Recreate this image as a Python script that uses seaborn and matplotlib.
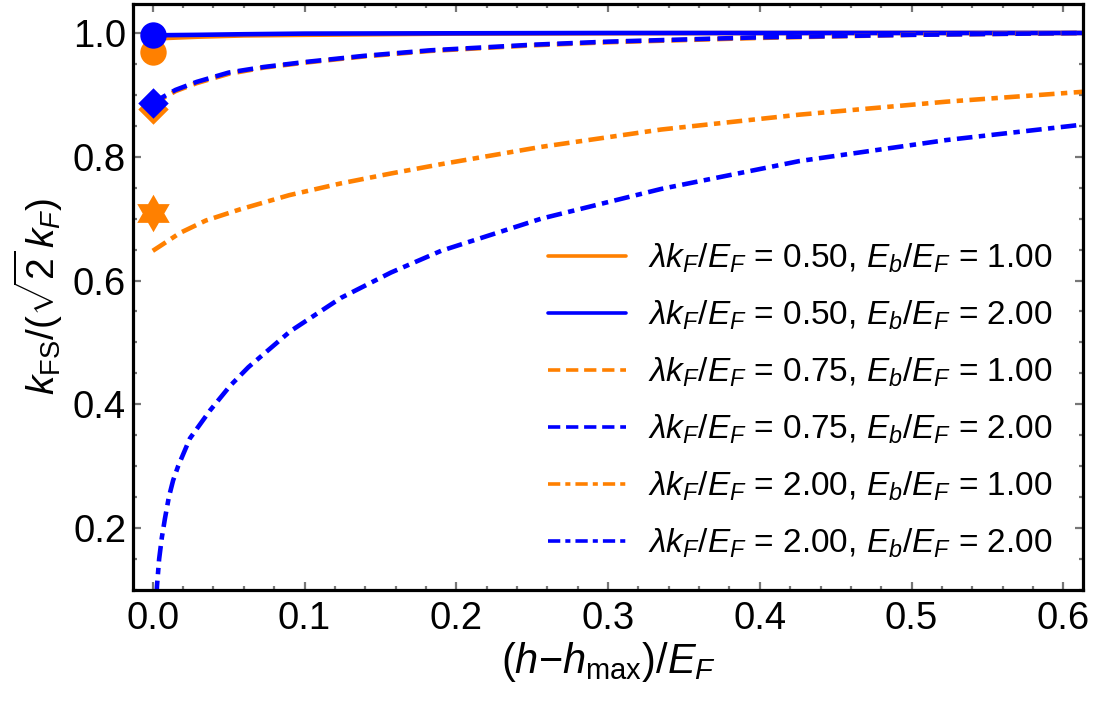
import numpy as np
import pandas as pd
import seaborn as sns
import matplotlib.pyplot as plt
import matplotlib.path as mpath
from matplotlib.ticker import MultipleLocator

# valores
x_sol = [0.0, 0.01, 0.03, 0.06, 0.1, 0.2, 0.3, 0.45, 0.613]
y_sol_or = [0.990, 0.992, 0.994, 0.996, 0.997, 0.999, 0.9995, 1.0, 1.0]
y_sol_bl = [0.996, 0.9965, 0.997, 0.998, 0.999, 0.9995, 1.0, 1.0, 1.0]

x_dash = [0.0, 0.007, 0.015, 0.029, 0.05, 0.073, 0.1, 0.139, 0.183, 0.25, 0.3, 0.4, 0.5, 0.613]
y_dash_or = [0.883, 0.895, 0.906, 0.919, 0.934, 0.944, 0.952, 0.962, 0.971, 0.980, 0.985, 0.992, 0.997, 1.0]
y_dash_bl = [0.886, 0.897, 0.908, 0.921, 0.936, 0.945, 0.953, 0.963, 0.972, 0.981, 0.986, 0.993, 0.997, 1.0]

x_dd_or = [0.0, 0.005, 0.018, 0.035, 0.0575, 0.09, 0.124, 0.157, 0.19, 0.256, 0.335, 0.426, 0.523, 0.613]
y_dd_or = [0.648, 0.656, 0.677, 0.697, 0.715, 0.738, 0.757, 0.773, 0.788, 0.816, 0.844, 0.868, 0.889, 0.905]

x_dd_bl = [0.0024, 0.0028, 0.0042, 0.006, 0.008, 0.0106, 0.0134, 0.0167, 0.0245, 0.0377,
           0.051, 0.063, 0.0906, 0.124, 0.157, 0.19, 0.256, 0.335, 0.426, 0.523, 0.613]
y_dd_bl = [0.09, 0.107, 0.15, 0.185, 0.215, 0.25, 0.277, 0.30, 0.345, 0.39,
           0.43, 0.46, 0.518, 0.572, 0.613, 0.648, 0.700, 0.748, 0.793, 0.827, 0.852]

# puntos en h = h_max
pt_x = 0.0
pt_circ_or, pt_circ_bl = 0.970, 0.997
pt_diam_or, pt_diam_bl = 0.877, 0.887
pt_star_or = 0.709

labels = [r'$\lambda k_F/E_F$ = 0.50, $E_b/E_F$ = 1.00',
          r'$\lambda k_F/E_F$ = 0.50, $E_b/E_F$ = 2.00',
          r'$\lambda k_F/E_F$ = 0.75, $E_b/E_F$ = 1.00',
          r'$\lambda k_F/E_F$ = 0.75, $E_b/E_F$ = 2.00',
          r'$\lambda k_F/E_F$ = 2.00, $E_b/E_F$ = 1.00',
          r'$\lambda k_F/E_F$ = 2.00, $E_b/E_F$ = 2.00']

ORANGE = '#FF8000'
BLUE = '#0000FF'

sns.set_theme(style="ticks")
plt.rcParams['font.family'] = ['Liberation Sans', 'DejaVu Sans']
plt.rcParams['mathtext.fontset'] = 'custom'
plt.rcParams['mathtext.rm'] = 'Liberation Sans'
plt.rcParams['mathtext.it'] = 'Liberation Sans:italic'
plt.rcParams['mathtext.bf'] = 'Liberation Sans:bold'
plt.rcParams['text.color'] = 'black'
plt.rcParams['axes.labelcolor'] = 'black'

fig = plt.figure(figsize=(10.94, 7.07), dpi=100)
ax = fig.add_axes([0.1216, 0.1655, 0.8684, 0.829])

lw = 3.3
dashed = (0, (3.4, 1.6))
dashdot = (0, (3.4, 1.4, 1.4, 1.4))

series = [
    (x_sol, y_sol_or, ORANGE, '-'),
    (x_sol, y_sol_bl, BLUE, '-'),
    (x_dash, y_dash_or, ORANGE, dashed),
    (x_dash, y_dash_bl, BLUE, dashed),
    (x_dd_or, y_dd_or, ORANGE, dashdot),
    (x_dd_bl, y_dd_bl, BLUE, dashdot),
]
for (xs, ys, c, ls), lab in zip(series, labels):
    sns.lineplot(x=xs, y=ys, color=c, linestyle=ls, lw=lw, label=lab, ax=ax,
                 estimator=None, sort=False)

# marcadores
hexagram = mpath.Path.unit_regular_star(6, innerCircle=0.577)
ax.scatter([pt_x], [pt_circ_or], s=19**2, marker='o', color=ORANGE, lw=0, zorder=5, clip_on=False)
ax.scatter([pt_x], [pt_circ_bl], s=19**2, marker='o', color=BLUE, lw=0, zorder=6, clip_on=False)
ax.scatter([pt_x], [pt_diam_or], s=15.5**2, marker='D', color=ORANGE, lw=0, zorder=5, clip_on=False)
ax.scatter([pt_x], [pt_diam_bl], s=15.5**2, marker='D', color=BLUE, lw=0, zorder=6, clip_on=False)
ax.scatter([pt_x], [pt_star_or], s=27**2, marker=hexagram, color=ORANGE, lw=0, zorder=5, clip_on=False)

ax.set_xlim(-0.013, 0.613)
ax.set_ylim(0.1, 1.047)
ax.xaxis.set_minor_locator(MultipleLocator(0.02))
ax.yaxis.set_minor_locator(MultipleLocator(0.05))
ax.set_xticks([0.0, 0.1, 0.2, 0.3, 0.4, 0.5, 0.6])
ax.set_xticklabels(['0.0', '0.1', '0.2', '0.3', '0.4', '0.5', '0.6'])
ax.set_yticks([0.2, 0.4, 0.6, 0.8, 1.0])
ax.set_yticklabels(['0.2', '0.4', '0.6', '0.8', '1.0'])

ax.tick_params(which='both', direction='in', top=True, right=True, color='#777777',
               labelcolor='black', labelsize=27.5, width=1.6)
ax.tick_params(which='major', length=5.5)
ax.tick_params(which='minor', length=3)
ax.tick_params(axis='x', which='major', pad=8)
ax.tick_params(axis='y', which='major', pad=5)
for sp in ax.spines.values():
    sp.set_visible(True)
    sp.set_linewidth(2.3)
    sp.set_color('black')

ax.set_xlabel(r'$(h{-}h_{\rm max})/E_F$', fontsize=30, labelpad=2)
ax.set_ylabel(r'$k_{\rm FS}/(\sqrt{2}\,k_F)$', fontsize=28, labelpad=6)

leg = ax.legend(loc='lower right', bbox_to_anchor=(1.0, 0.0), frameon=False,
                fontsize=24, handlelength=2.34, handletextpad=0.66, labelspacing=0.71)
for h in leg.get_lines():
    h.set_linewidth(2.6)

plt.savefig('out.png', dpi=100)
